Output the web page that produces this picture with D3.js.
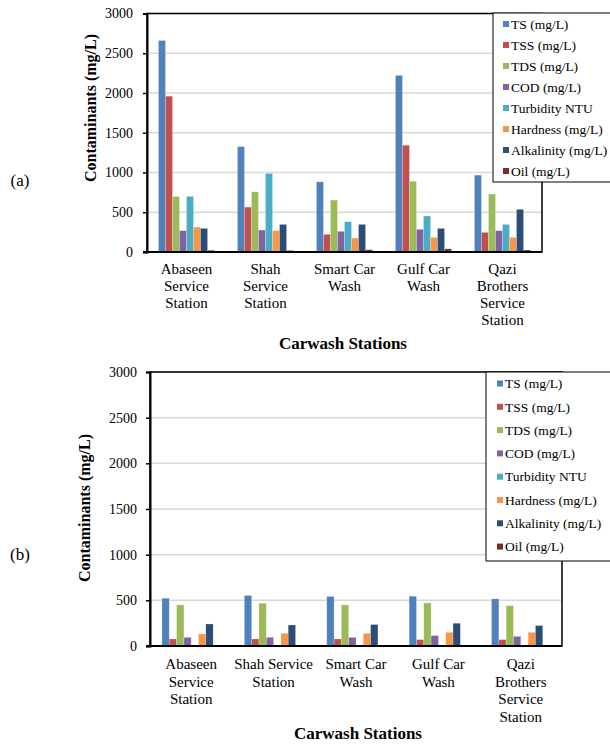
<!DOCTYPE html>
<html>
<head>
<meta charset="utf-8">
<script src="https://cdn.jsdelivr.net/npm/d3@7"></script>
<style>
  html, body { margin: 0; padding: 0; background: #fff; }
  svg, svg text { font-family: "Liberation Serif", "Times New Roman", serif !important; }
</style>
</head>
<body>
<svg id="chart" width="610" height="744"></svg>
<script>
// ---------- DATA ----------
const seriesNames = ["TS (mg/L)", "TSS (mg/L)", "TDS (mg/L)", "COD (mg/L)", "Turbidity NTU", "Hardness (mg/L)", "Alkalinity (mg/L)", "Oil (mg/L)"];
const seriesColors = ["#4F81BD", "#C0504D", "#9BBB59", "#8064A2", "#4BACC6", "#F79646", "#2C4D75", "#772C2A"];

const stations = ["Abaseen Service Station", "Shah Service Station", "Smart Car Wash", "Gulf Car Wash", "Qazi Brothers Service Station"];
const stationLinesA = [["Abaseen", "Service", "Station"], ["Shah", "Service", "Station"], ["Smart Car", "Wash"], ["Gulf Car", "Wash"], ["Qazi", "Brothers", "Service", "Station"]];
const stationLinesB = [["Abaseen", "Service", "Station"], ["Shah Service", "Station"], ["Smart Car", "Wash"], ["Gulf Car", "Wash"], ["Qazi", "Brothers", "Service", "Station"]];

const yTicks = [0, 500, 1000, 1500, 2000, 2500, 3000];

// Panel (a) values, per series, in station order
const tsA        = [2660, 1325, 883, 2222, 967];
const tssA       = [1960, 565, 222, 1343, 247];
const tdsA       = [698, 757, 653, 891, 728];
const codA       = [268, 276, 260, 285, 268];
const turbidityA = [700, 988, 381, 452, 347];
const hardnessA  = [314, 268, 176, 184, 184];
const alkalinityA= [297, 347, 347, 297, 536];
const oilA       = [22, 20, 28, 40, 25];

// Panel (b) values
const tsB        = [523, 553, 542, 545, 516];
const tssB       = [77, 77, 77, 70, 70];
const tdsB       = [450, 468, 450, 472, 443];
const codB       = [95, 95, 95, 114, 106];
const turbidityB = [0, 0, 0, 0, 0];
const hardnessB  = [132, 139, 139, 150, 150];
const alkalinityB= [241, 230, 235, 249, 224];
const oilB       = [0, 0, 0, 0, 0];

const seriesA = [tsA, tssA, tdsA, codA, turbidityA, hardnessA, alkalinityA, oilA];
const seriesB = [tsB, tssB, tdsB, codB, turbidityB, hardnessB, alkalinityB, oilB];

// ---------- DRAW ----------
const FONT = "Liberation Serif, Times New Roman, serif";
const svg = d3.select("#chart").attr("font-family", FONT);

function drawPanel(cfg) {
  const g = svg.append("g").attr("font-family", FONT);
  const x0 = d3.scaleBand().domain(stations).range([cfg.left, cfg.right]).paddingInner(0.29).paddingOuter(0.145);
  const x1 = d3.scaleBand().domain(seriesNames).range([0, x0.bandwidth()]);
  const y = d3.scaleLinear().domain([0, 3000]).range([cfg.bottom, cfg.top]);

  // gridlines
  g.append("g").selectAll("line").data(yTicks.filter(t => t > 0)).join("line")
    .attr("x1", cfg.left).attr("x2", cfg.right)
    .attr("y1", d => y(d)).attr("y2", d => y(d))
    .attr("stroke", "#d9d9d9").attr("stroke-width", 1.5);

  // bars
  const rows = [];
  cfg.series.forEach((arr, si) => arr.forEach((v, ci) => rows.push({ s: seriesNames[si], si, c: stations[ci], v })));
  g.append("g").selectAll("rect").data(rows.filter(r => r.v > 0)).join("rect")
    .attr("x", d => x0(d.c) + x1(d.s))
    .attr("width", x1.bandwidth())
    .attr("y", d => y(d.v))
    .attr("height", d => cfg.bottom - y(d.v))
    .attr("fill", d => seriesColors[d.si])
    .attr("stroke", "rgba(255,255,255,0.35)").attr("stroke-width", 0.6);

  // plot border
  g.append("rect").attr("x", cfg.left).attr("y", cfg.top)
    .attr("width", cfg.right - cfg.left).attr("height", cfg.bottom - cfg.top)
    .attr("fill", "none").attr("stroke", "#000").attr("stroke-width", 1.5);

  // y axis
  const yAxis = d3.axisLeft(y).tickValues(yTicks).tickSize(4).tickPadding(cfg.tickPad).tickFormat(d3.format("d"));
  const ya = g.append("g").attr("transform", `translate(${cfg.left},0)`).call(yAxis);
  ya.attr("font-family", FONT).attr("font-size", 14);
  ya.select(".domain").attr("stroke", "#000").attr("stroke-width", 2);
  ya.selectAll(".tick line").attr("stroke", "#000").attr("stroke-width", 1.5);
  ya.selectAll(".tick text").attr("fill", "#000");

  // x baseline
  g.append("line").attr("x1", cfg.left - 4).attr("x2", cfg.right)
    .attr("y1", cfg.bottom).attr("y2", cfg.bottom).attr("stroke", "#000").attr("stroke-width", 2);

  // category labels
  const lab = g.append("g").selectAll("text").data(stations).join("text")
    .attr("text-anchor", "middle").attr("font-size", 15).attr("fill", "#000")
    .attr("x", d => x0(d) + x0.bandwidth() / 2)
    .attr("y", cfg.labelY);
  lab.each(function (d, i) {
    const t = d3.select(this);
    cfg.lines[i].forEach((ln, k) => {
      t.append("tspan").attr("x", x0(d) + x0.bandwidth() / 2).attr("dy", k === 0 ? 0 : cfg.lineH).text(ln);
    });
  });

  // axis titles
  g.append("text").attr("x", cfg.xTitleX).attr("y", cfg.xTitleY).attr("text-anchor", "middle")
    .attr("font-weight", "bold").attr("font-size", 17).text("Carwash Stations");
  g.append("text").attr("transform", `translate(${cfg.yTitleX},${cfg.yTitleY}) rotate(-90)`)
    .attr("text-anchor", "middle").attr("font-weight", "bold").attr("font-size", 16).text("Contaminants (mg/L)");

  // panel tag
  g.append("text").attr("x", 20).attr("y", cfg.tagY).attr("text-anchor", "middle")
    .attr("font-size", 17).text(cfg.tag);

  // legend
  const lg = g.append("g");
  lg.append("rect").attr("x", cfg.legX).attr("y", cfg.legY).attr("width", 140).attr("height", cfg.legH)
    .attr("fill", "#fff").attr("stroke", "#000").attr("stroke-width", 1);
  seriesNames.forEach((name, i) => {
    const cy = cfg.legFirst + i * cfg.legStep;
    lg.append("rect").attr("x", cfg.legX + cfg.swOff).attr("y", cy - 3).attr("width", 6).attr("height", 6)
      .attr("fill", seriesColors[i]);
    lg.append("text").attr("x", cfg.legX + cfg.swOff + 8).attr("y", cy).attr("dy", "0.35em")
      .attr("font-size", 13.5).text(name);
  });
}

drawPanel({
  series: seriesA, lines: stationLinesA, tag: "(a)", tagY: 186,
  left: 147, right: 542, top: 13.5, bottom: 252, tickPad: 10,
  labelY: 274, lineH: 17,
  xTitleX: 343, xTitleY: 349,
  yTitleX: 96, yTitleY: 108,
  legX: 493, legY: 13, legH: 169, legFirst: 24, legStep: 21, swOff: 10
});

drawPanel({
  series: seriesB, lines: stationLinesB, tag: "(b)", tagY: 560,
  left: 150, right: 562, top: 372, bottom: 646, tickPad: 9,
  labelY: 669, lineH: 17.5,
  xTitleX: 358, xTitleY: 739,
  yTitleX: 90, yTitleY: 508,
  legX: 486, legY: 372, legH: 189, legFirst: 383.5, legStep: 23.3, swOff: 11
});
</script>
</body>
</html>
